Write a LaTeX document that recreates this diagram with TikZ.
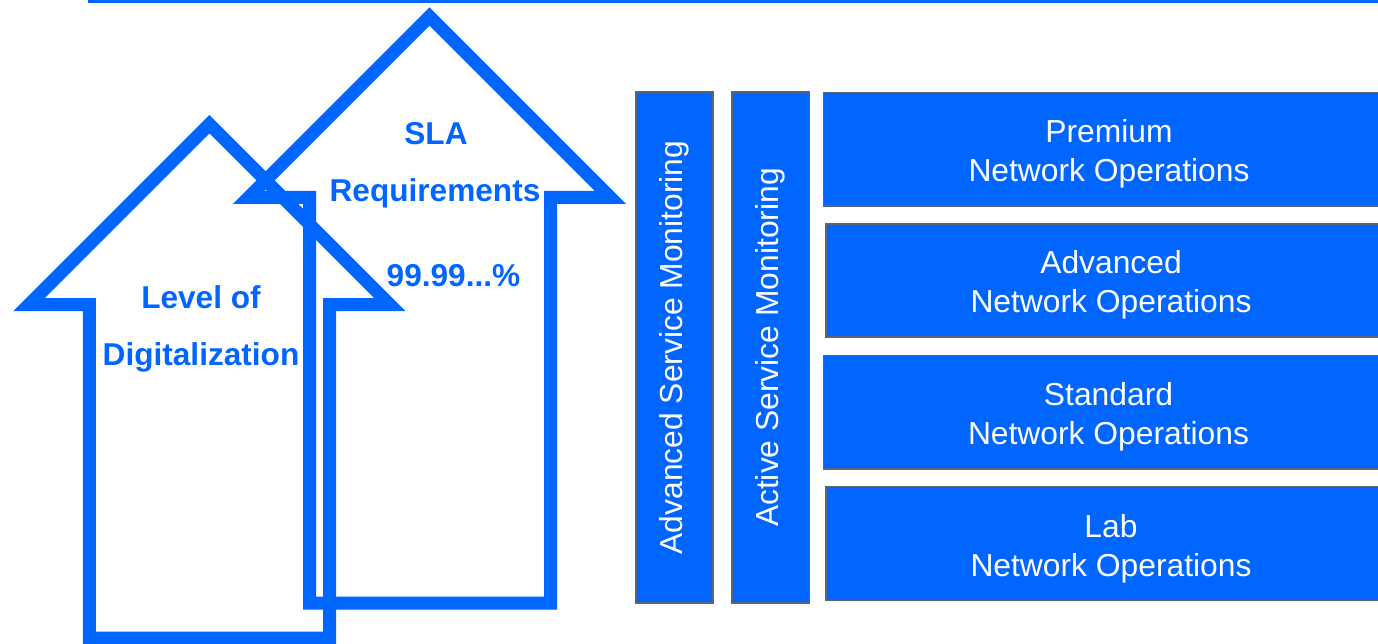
\documentclass[tikz,border=0pt]{standalone}
\usepackage{fontspec}
\setmainfont{Liberation Sans}
\definecolor{ablue}{HTML}{0066FF}
\definecolor{bgray}{HTML}{5A6577}
\tikzset{
  arrowline/.style={draw=ablue, line width=13pt, line join=miter},
  arrowtext/.style={text=ablue, font=\fontsize{31.6}{38}\selectfont\bfseries, anchor=base, inner sep=0pt},
  nbox/.style={draw=bgray, fill=ablue, line width=1.5pt, inner sep=0pt},
  ntext/.style={text=white, font=\fontsize{31.8}{39}\selectfont, align=center, inner sep=0pt},
  vbox/.style={nbox, rotate=90, text=white, font=\fontsize{31.8}{39}\selectfont},
  topline/.style={draw=ablue, line width=2.7pt},
}
\begin{document}
\begin{tikzpicture}[x=1pt,y=-1pt]
\useasboundingbox (0,0) rectangle (1378,644);
\clip (0,0) rectangle (1378,644);
\fill[white] (0,0) rectangle (1378,644);

% top rule
\coordinate (tl) at (88,1.3);
\coordinate (tr) at (1380,1.3);
\draw[topline] (tl) -- (tr);

% back arrow (SLA)
\draw[arrowline] (429.5,16.5) -- (610.5,197.5) -- (550.5,197.5) -- (550.5,603)
  -- (309.5,603) -- (309.5,197.5) -- (248.5,197.5) -- cycle;
% front arrow (Level of Digitalization)
\draw[arrowline] (209.4,124.2) -- (389.9,304.7) -- (329.7,304.7) -- (329.7,638)
  -- (89.3,638) -- (89.3,304.7) -- (28.9,304.7) -- cycle;

\node[arrowtext] (sla) at (436,145) {SLA};
\node[arrowtext] (req) at (435,202) {Requirements};
\node[arrowtext] (pct) at (453.5,286.7) {99.99...\%};
\node[arrowtext] (lvl) at (201,308) {Level of};
\node[arrowtext] (dig) at (201,365.7) {Digitalization};

% vertical monitoring boxes
\node[vbox, minimum width=510.7pt, minimum height=77pt] (asm) at (674.5,347.6) {Advanced Service Monitoring};
\node[vbox, minimum width=510.7pt, minimum height=77.3pt] (act) at (770.6,347.6) {Active Service Monitoring};

% operations boxes
\node[nbox, minimum width=580pt, minimum height=113.7pt] (prem) at (1113.3,149.15) {};
\node[nbox, minimum width=580pt, minimum height=113pt] (adv) at (1116,280.5) {};
\node[nbox, minimum width=580pt, minimum height=113.7pt] (std) at (1113.5,412.15) {};
\node[nbox, minimum width=580pt, minimum height=114pt] (lab) at (1116,543.7) {};

\node[ntext] (premt) at (1109,153.9) {Premium\\Network Operations};
\node[ntext] (advt) at (1111,285.2) {Advanced\\Network Operations};
\node[ntext] (stdt) at (1108.5,416.9) {Standard\\Network Operations};
\node[ntext] (labt) at (1111,548.4) {Lab\\Network Operations};
\end{tikzpicture}
\end{document}
